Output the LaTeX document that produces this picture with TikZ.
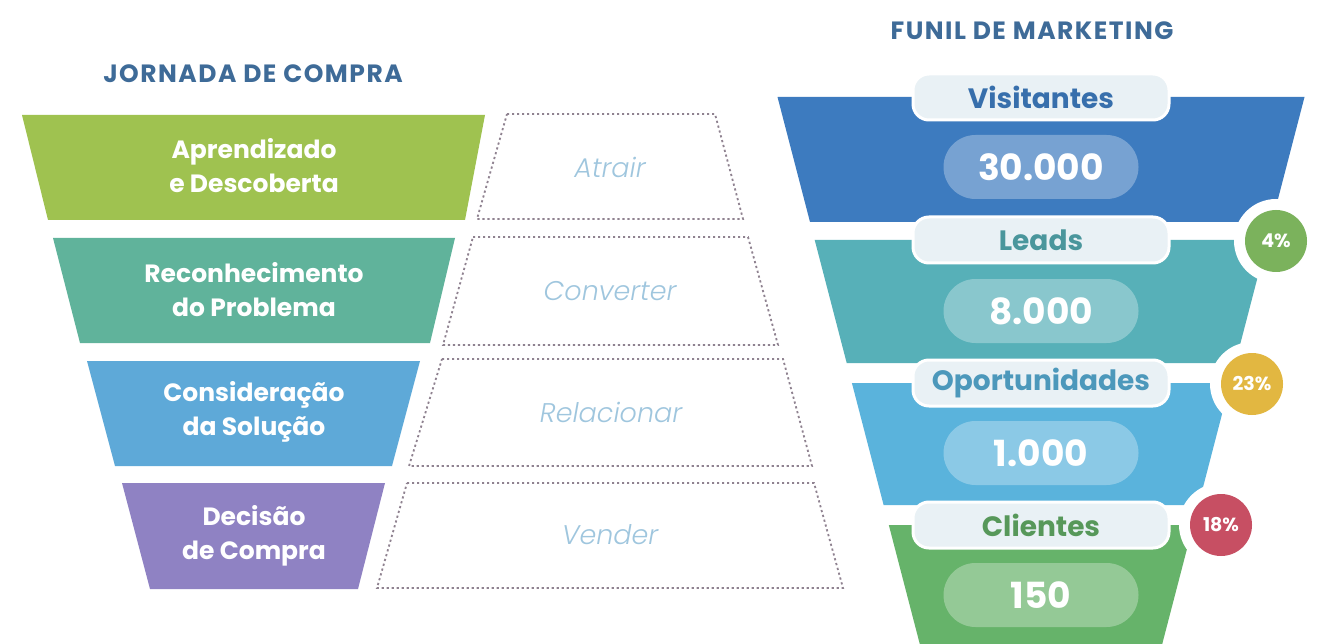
\documentclass[tikz,border=0pt]{standalone}
\usepackage{fontspec}
\setmainfont{Poppins}
\newfontfamily\thinfont{Poppins Light Italic}
\newfontfamily\spacedfont{Poppins}[LetterSpace=6]
\definecolor{titleblue}{HTML}{3E6B98}
\definecolor{stepgreen}{HTML}{9FC250}
\definecolor{stepteal}{HTML}{60B39B}
\definecolor{stepblue}{HTML}{5EA9D8}
\definecolor{steppurple}{HTML}{8F82C3}
\definecolor{dotgray}{HTML}{8F8290}
\definecolor{softblue}{HTML}{9FC6DE}
\definecolor{funnavy}{HTML}{3D7BBF}
\definecolor{funteal}{HTML}{57B0B8}
\definecolor{funsky}{HTML}{5AB3DC}
\definecolor{fungreen}{HTML}{66B36A}
\definecolor{pillfill}{HTML}{E9F1F5}
\definecolor{pctgreen}{HTML}{7BB25C}
\definecolor{pctyellow}{HTML}{E2B741}
\definecolor{pctred}{HTML}{C74F63}
\begin{document}
\begin{tikzpicture}[x=1pt,y=-1pt,
    title/.style={text=titleblue,font=\fontsize{25}{30}\selectfont\spacedfont\bfseries},
    stage/.style={text=white,align=center,font=\fontsize{25}{34}\selectfont\bfseries},
    action/.style={text=softblue,font=\fontsize{27}{32}\selectfont\thinfont},
    dotbox/.style={draw=dotgray,line width=1.8pt,dash pattern=on 2.2pt off 2.8pt},
    namepill/.style={draw=white,line width=3pt,fill=pillfill,rounded corners=16pt,
        minimum width=256pt,minimum height=46pt,font=\fontsize{28}{32}\selectfont\bfseries},
    valuepill/.style={fill=white,fill opacity=0.3,text opacity=1,text=white,rounded corners=32pt,
        minimum width=195pt,minimum height=64pt,font=\fontsize{36}{42}\selectfont\bfseries},
    pct/.style={circle,minimum size=62pt,inner sep=0pt,text=white,font=\fontsize{19}{22}\selectfont\bfseries}]
            \useasboundingbox (0,0) rectangle (1319,644);
            \fill[white] (0,0) rectangle (1319,644);

            \node[title] (jornada) at (253,74) {JORNADA DE COMPRA};
            \node[title] (funil) at (1032,31) {FUNIL DE MARKETING};

            \fill[stepgreen] (22,115) -- (485,115) -- (465,220) -- (48,220) -- cycle;
            \fill[stepteal] (53,238) -- (455,238) -- (430,343) -- (80,343) -- cycle;
            \fill[stepblue] (87,361) -- (420,361) -- (392,466) -- (115,466) -- cycle;
            \fill[steppurple] (122,483) -- (385,483) -- (358,589) -- (150,589) -- cycle;
            \begin{scope}[every node/.style={stage}]
                \node (aprendizado) at (254,166) {Aprendizado\\e Descoberta};
                \node (reconhecimento) at (254,290) {Reconhecimento\\do Problema};
                \node (consideracao) at (254,412) {Consideração\\da Solução};
                \node (decisao) at (254,536) {Decisão\\de Compra};
            \end{scope}

            \draw[dotbox] (507,114) -- (715,114) -- (743,219) -- (477,219) -- cycle;
            \draw[dotbox] (473,237) -- (748,237) -- (778,345) -- (443,345) -- cycle;
            \draw[dotbox] (442,359) -- (783,359) -- (812,466) -- (409,466) -- cycle;
            \draw[dotbox] (407,483) -- (814,483) -- (843,588) -- (377,588) -- cycle;
            \begin{scope}[every node/.style={action}]
                \node (atrair) at (610,167) {Atrair};
                \node (converter) at (610,291) {Converter};
                \node (relacionar) at (611,412) {Relacionar};
                \node (vender) at (610,535) {Vender};
            \end{scope}

            \fill[funnavy] (777.5,97) -- (1304.5,97) -- (1272,222) -- (810,222) -- cycle;
            \fill[funteal] (814.7,240) -- (1267.3,240) -- (1235.3,363) -- (846.7,363) -- cycle;
            \fill[funsky] (851.9,383) -- (1230.1,383) -- (1198.4,505) -- (883.6,505) -- cycle;
            \fill[fungreen] (888.8,525) -- (1193.2,525) -- (1159.1,656) -- (922.9,656) -- cycle;

            \fill[white] (1276,241) circle (42);
            \fill[white] (1252,384) circle (42);
            \fill[white] (1221,525) circle (42);
            \node[pct,fill=pctgreen] (p4) at (1276,241) {4\%};
            \node[pct,fill=pctyellow] (p23) at (1252,384) {23\%};
            \node[pct,fill=pctred] (p18) at (1221,525) {18\%};

            \node[namepill,text=funnavy!90!black] (visitantes) at (1041,97) {Visitantes};
            \node[namepill,text=funteal!85!black] (leads) at (1041,240) {Leads};
            \node[namepill,text=funsky!85!black] (oportunidades) at (1041,383) {Oportunidades};
            \node[namepill,text=fungreen!85!black] (clientes) at (1041,525) {Clientes};

            \node[valuepill] (n30000) at (1041,167) {30.000};
            \node[valuepill] (n8000) at (1041,311) {8.000};
            \node[valuepill] (n1000) at (1041,453) {1.000};
            \node[valuepill] (n150) at (1041,595) {150};
        \end{tikzpicture}
\end{document}
